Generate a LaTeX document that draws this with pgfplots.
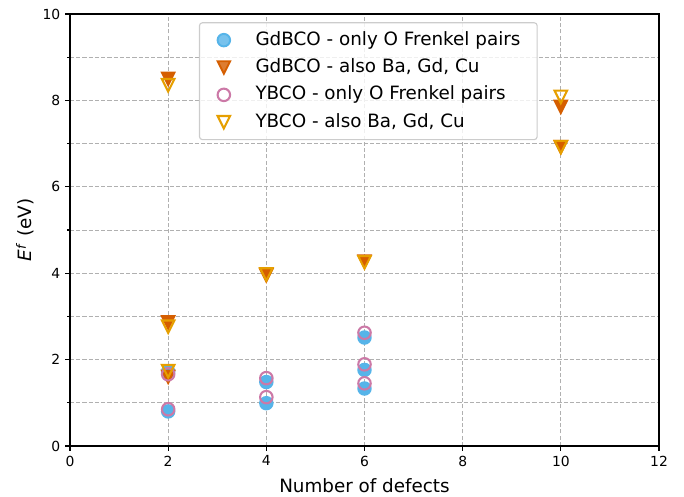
\documentclass[border=0pt]{standalone}
\usepackage{pgfplots}
\pgfplotsset{compat=1.18}
\usepackage{fontspec}
\setmainfont{DejaVu Sans}
\usetikzlibrary{plotmarks}

\definecolor{cblue}{HTML}{56B4E9}
\definecolor{cverm}{HTML}{D55E00}
\definecolor{cpink}{HTML}{CC79A7}
\definecolor{corange}{HTML}{E69F00}
\definecolor{cgrid}{HTML}{B0B0B0}
\definecolor{cleg}{HTML}{CCCCCC}

% matplotlib style 'v' marker (width = height = 2*mark size)
\pgfdeclareplotmark{vtri}{%
  \pgfpathmoveto{\pgfqpoint{0pt}{-\pgfplotmarksize}}%
  \pgfpathlineto{\pgfqpoint{-\pgfplotmarksize}{\pgfplotmarksize}}%
  \pgfpathlineto{\pgfqpoint{\pgfplotmarksize}{\pgfplotmarksize}}%
  \pgfpathclose
  \pgfusepathqfillstroke}
\pgfdeclareplotmark{vtriopen}{%
  \pgfpathmoveto{\pgfqpoint{0pt}{-\pgfplotmarksize}}%
  \pgfpathlineto{\pgfqpoint{-\pgfplotmarksize}{\pgfplotmarksize}}%
  \pgfpathlineto{\pgfqpoint{\pgfplotmarksize}{\pgfplotmarksize}}%
  \pgfpathclose
  \pgfusepathqstroke}

\begin{document}
\begin{tikzpicture}
\begin{axis}[
  name=ax,
  width=424.1pt, height=311.0pt,
  scale only axis,
  xmin=0, xmax=12, ymin=0, ymax=10,
  xtick={0,2,...,12}, ytick={0,2,...,10},
  minor ytick={1,3,...,9},
  xmajorgrids, ymajorgrids, yminorgrids,
  grid style={cgrid, line width=0.6pt, dash pattern=on 3pt off 1.5pt},
  minor grid style={cgrid, line width=0.6pt, dash pattern=on 3pt off 1.5pt},
  axis line style={line width=0.9pt},
  tick align=outside, xtick pos=bottom, ytick pos=left,
  major tick length=3.5pt, minor tick length=2pt,
  every tick/.style={black, line width=0.8pt},
  tick label style={font=\fontsize{10}{12}\selectfont},
  /pgf/number format/assume math mode=true,
  xlabel={Number of defects},
  ylabel={\textit{E}\textsuperscript{\textit{f}} (eV)},
  label style={font=\fontsize{13.2}{15}\selectfont},
  xlabel style={yshift=-2pt},
  ylabel style={yshift=-1pt},
  legend cell align=left,
  legend style={at={(0.219,0.981)}, anchor=north west,
    draw=cleg, fill=white, fill opacity=0.8, text opacity=1,
    rounded corners=2pt, line width=0.8pt,
    font=\fontsize{13.2}{15}\selectfont,
    inner xsep=12pt, inner ysep=6pt, row sep=6.7pt,
    nodes={inner sep=0pt, text height=10pt, text depth=3pt},
    /tikz/every odd column/.append style={column sep=17.3pt}},
  legend image code/.code={
    \path[draw=none, fill=none] (-5.5pt,-5.5pt) rectangle (5.5pt,5.5pt);
    \draw[#1] plot coordinates {(0pt,0pt)};},
]
\addplot[only marks, mark=*, mark size=4.5pt, draw=cblue, fill=cblue, line width=1.4pt] coordinates {
(2,0.80) (2,1.72) (4,0.99) (4,1.48) (6,1.33) (6,1.76) (6,2.51)};
\addlegendentry{GdBCO - only O Frenkel pairs}
\addplot[only marks, mark=vtri, mark size=4.5pt, draw=cverm, fill=cverm, line width=1.4pt] coordinates {
(2,1.60) (2,2.86) (2,8.50) (4,3.95) (6,4.27) (10,7.85) (10,6.92)};
\addlegendentry{GdBCO - also Ba, Gd, Cu}
\addplot[only marks, mark=o, mark size=4.5pt, draw=cpink, line width=1.5pt] coordinates {
(2,0.85) (2,1.66) (4,1.13) (4,1.57) (6,1.45) (6,1.89) (6,2.62)};
\addlegendentry{YBCO - only O Frenkel pairs}
\addplot[only marks, mark=vtriopen, mark size=4.5pt, draw=corange, line width=1.5pt] coordinates {
(2,1.73) (2,2.76) (2,8.35) (4,3.97) (6,4.25) (10,8.08) (10,6.92)};
\addlegendentry{YBCO - also Ba, Gd, Cu}
\end{axis}
\pgfresetboundingbox
\path ([shift={(-50.4pt,-36.7pt)}]ax.south west) rectangle ([shift={(18pt,10.1pt)}]ax.north east);
\end{tikzpicture}
\end{document}
